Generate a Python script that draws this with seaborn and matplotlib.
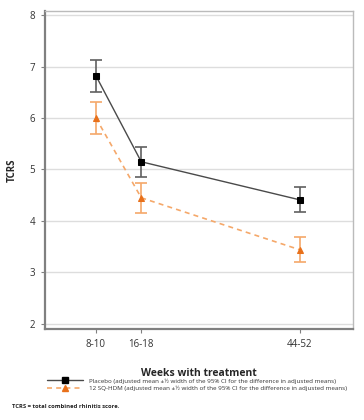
import numpy as np
import pandas as pd
import seaborn as sns
import matplotlib.pyplot as plt
from matplotlib.lines import Line2D

# data
week_labels = ["8-10", "16-18", "44-52"]
week_pos = [9, 17, 45]
placebo_mean = [6.82, 5.15, 4.41]
placebo_err = [0.31, 0.29, 0.24]
hdm_mean = [6.00, 4.45, 3.44]
hdm_err = [0.31, 0.29, 0.24]

series_names = ["Placebo (adjusted mean \u00b1\u00bd width of the 95% CI for the difference in adjusted means)",
                "12 SQ-HDM (adjusted mean \u00b1\u00bd width of the 95% CI for the difference in adjusted means)"]

df = pd.DataFrame({
    "week": week_pos * 2,
    "tcrs": placebo_mean + hdm_mean,
    "group": ["Placebo"] * 3 + ["HDM"] * 3,
})

sns.set_style("white")
plt.rcParams['font.family'] = ['Open Sans', 'DejaVu Sans']

fig = plt.figure(figsize=(3.64, 4.2), dpi=100)
ax = fig.add_axes([45 / 364, 1 - 329 / 420, 308 / 364, 318 / 420])

grey_line = "#4a4a4a"
orange_dark = "#e8701a"
orange_light = "#f5a86a"

# error bars first so lines/markers sit on top
ax.errorbar(week_pos, placebo_mean, yerr=placebo_err, fmt="none", ecolor="#606060",
            elinewidth=1.2, capsize=4, capthick=1.2, zorder=2)
ax.errorbar(week_pos, hdm_mean, yerr=hdm_err, fmt="none", ecolor=orange_light,
            elinewidth=1.2, capsize=4, capthick=1.2, zorder=2)

sns.lineplot(data=df[df.group == "Placebo"], x="week", y="tcrs", ax=ax, color=grey_line,
             linewidth=1.0, marker="s", markersize=5, markerfacecolor="black",
             markeredgecolor="black", zorder=3, legend=False)
sns.lineplot(data=df[df.group == "HDM"], x="week", y="tcrs", ax=ax, color=orange_light,
             linewidth=1.2, marker="^", markersize=5, markerfacecolor=orange_dark,
             markeredgecolor=orange_dark, zorder=3, legend=False)
ax.lines[-1].set_dashes([3, 2.5])

ax.set_xlim(0, 54.4)
ax.set_ylim(1.9, 8.08)
ax.set_yticks([2, 3, 4, 5, 6, 7, 8])
ax.set_xticks(week_pos)
ax.set_xticklabels(week_labels)
ax.yaxis.grid(True, color="#dddddd", linewidth=1.0)
ax.set_axisbelow(True)

for side in ["left", "bottom"]:
    ax.spines[side].set_color("#808080")
    ax.spines[side].set_linewidth(1.6)
for side in ["top", "right"]:
    ax.spines[side].set_color("#bbbbbb")
    ax.spines[side].set_linewidth(1.0)
ax.tick_params(axis="both", length=3, width=0.8, color="#808080", labelsize=7,
               labelcolor="#333333", direction="out", bottom=True, left=True, pad=4)

ax.set_xlabel("Weeks with treatment", fontsize=7.5, fontweight="bold", labelpad=13)
ax.set_ylabel("TCRS", fontsize=7, fontweight="bold")
ax.yaxis.set_label_coords(-27 / 308, 0.5)

handles = [
    Line2D([], [], color=grey_line, linewidth=1.0, marker="s", markersize=5,
           markerfacecolor="black", markeredgecolor="black"),
    Line2D([], [], color=orange_light, linewidth=1.2, dashes=[3, 2.5], marker="^", markersize=5,
           markerfacecolor=orange_dark, markeredgecolor=orange_dark),
]
fig.legend(handles, series_names, loc="upper left", bbox_to_anchor=(44 / 364, 1 - 375 / 420),
           frameon=False, fontsize=4.5, handlelength=5.8, handletextpad=0.9,
           labelspacing=0.4, borderpad=0, labelcolor="#333333")

fig.text(12 / 364, 1 - 406 / 420, "TCRS = total combined rhinitis score.", fontsize=4.2,
         fontweight="bold", va="center", color="#222222")

fig.savefig("out.png", dpi=100)
